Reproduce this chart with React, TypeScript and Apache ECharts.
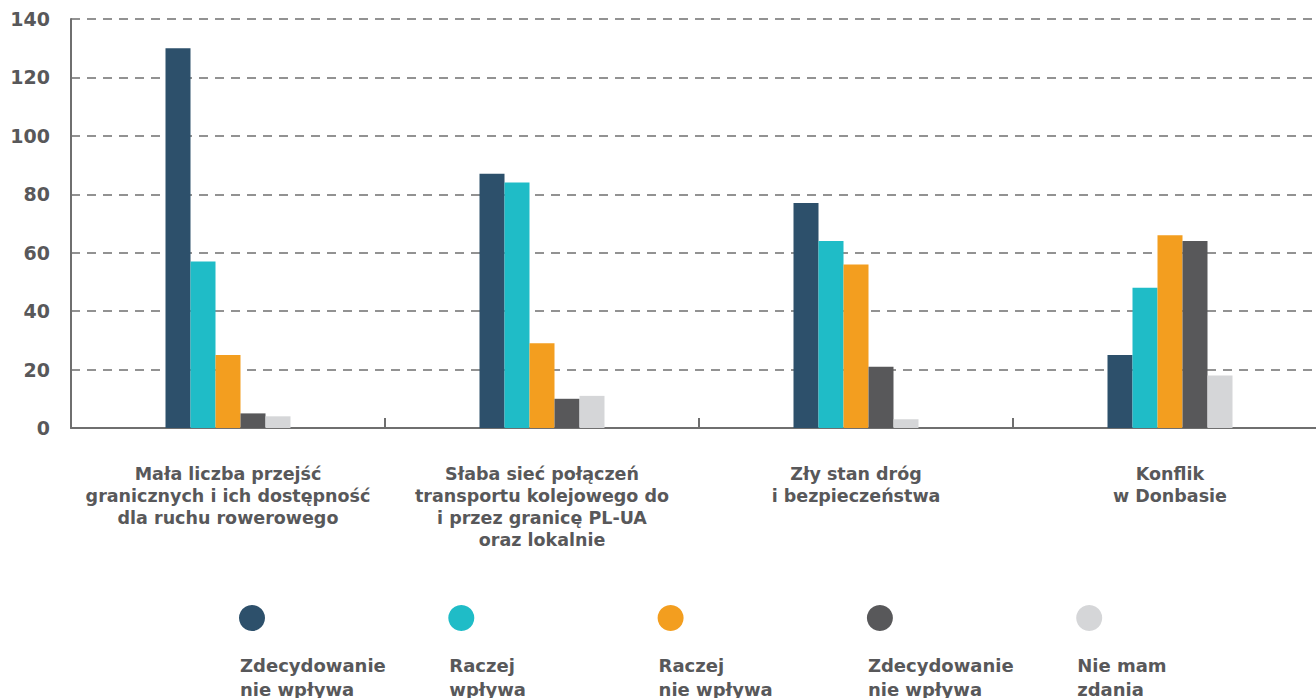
import React, { useEffect, useRef } from "react";
import * as echarts from "echarts";

const categories = [
  "Mała liczba przejść\ngranicznych i ich dostępność\ndla ruchu rowerowego",
  "Słaba sieć połączeń\ntransportu kolejowego do\ni przez granicę PL-UA\noraz lokalnie",
  "Zły stan dróg\ni bezpieczeństwa",
  "Konflik\nw Donbasie",
];
const seriesNames = [
  "Zdecydowanie\nnie wpływa",
  "Raczej\nwpływa",
  "Raczej\nnie wpływa",
  "Zdecydowanie\nnie wpływa",
  "Nie mam\nzdania",
];
const seriesColors = ["#2d506b", "#1fbcc7", "#f39e1f", "#58585a", "#d5d6d8"];
const values1 = [130, 87, 77, 25];
const values2 = [57, 84, 64, 48];
const values3 = [25, 29, 56, 66];
const values4 = [5, 10, 21, 64];
const values5 = [4, 11, 3, 18];
const allValues = [values1, values2, values3, values4, values5];

const FONT = "'DejaVu Sans', sans-serif";
const TEXT = "#58585a";

export default function App() {
  const ref = useRef<HTMLDivElement>(null);
  useEffect(() => {
    if (!ref.current) return;
    const chart = echarts.init(ref.current, undefined, { renderer: "svg" });
    const legendGraphics: any[] = [];
    seriesNames.forEach((name, i) => {
      legendGraphics.push({
        type: "circle",
        shape: { cx: 252 + i * 209.3, cy: 618, r: 13 },
        style: { fill: seriesColors[i] },
      });
      legendGraphics.push({
        type: "text",
        x: 240 + i * 209.3,
        y: 653,
        style: {
          text: name,
          fill: TEXT,
          font: `bold 18px ${FONT}`,
          lineHeight: 24,
          textAlign: "left",
          textVerticalAlign: "top",
        },
      });
    });
    chart.setOption({
      animation: false,
      textStyle: { fontFamily: FONT },
      grid: { left: 71, top: 19, bottom: 270, right: 0, containLabel: false },
      xAxis: {
        type: "category",
        data: categories,
        axisLine: { show: true, lineStyle: { color: "#6f6f6f", width: 2 } },
        axisTick: { show: true, inside: true, length: 10, lineStyle: { color: "#6f6f6f", width: 2 } },
        axisLabel: {
          interval: 0,
          margin: 35,
          color: TEXT,
          fontFamily: FONT,
          fontWeight: "bold",
          fontSize: 17.5,
          lineHeight: 22,
          align: "center",
        },
        splitLine: { show: false },
      },
      yAxis: {
        type: "value",
        min: 0,
        max: 140,
        interval: 20,
        axisLine: { show: true, lineStyle: { color: "#6f6f6f", width: 2 } },
        axisTick: { show: false },
        axisLabel: {
          margin: 21,
          color: TEXT,
          fontFamily: FONT,
          fontWeight: "bold",
          fontSize: 19,
        },
        splitLine: {
          show: true,
          lineStyle: { color: "#6f6f6f", type: [9, 7], width: 1.5 },
        },
      },
      series: allValues.map((vals, i) => ({
        type: "bar",
        name: seriesNames[i],
        data: vals,
        barWidth: 25,
        barGap: "0%",
        itemStyle: { color: seriesColors[i] },
      })),
      graphic: legendGraphics,
    });
    return () => chart.dispose();
  }, []);
  return (
    <div
      ref={ref}
      style={{ position: "fixed", left: 0, top: 0, width: 1327, height: 698, background: "#fff" }}
    />
  );
}
